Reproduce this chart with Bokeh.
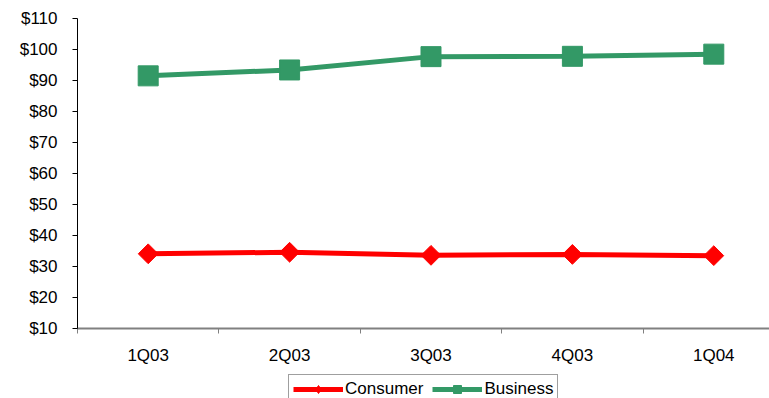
from bokeh.plotting import figure
from bokeh.layouts import column
from bokeh.models import (Range1d, FixedTicker, PrintfTickFormatter, Legend, LegendItem)
from bokeh.embed import file_html
from bokeh.resources import INLINE
import numpy as np

# Average revenue per line, by quarter
quarters = ["1Q03", "2Q03", "3Q03", "4Q03", "1Q04"]
consumer = [34.1, 34.6, 33.6, 33.9, 33.5]
business = [91.5, 93.4, 97.7, 97.8, 98.5]
y_ticks = [10, 20, 30, 40, 50, 60, 70, 80, 90, 100, 110]

FONT = "Liberation Sans"
FSIZE = "17px"
RED = "#FF0000"
GREEN = "#339966"

# category slots: each quarter occupies one unit, centred at i + 0.5
xc = np.arange(len(quarters)) + 0.5
bounds = list(range(len(quarters) + 1))

p = figure(width=769, height=374, output_backend="svg", toolbar_location=None,
           x_range=Range1d(0, 4.894), y_range=Range1d(10, 110),
           min_border_left=77, min_border_top=18, min_border_right=0,
           min_border_bottom=46)
p.outline_line_color = None
p.xgrid.grid_line_color = None
p.ygrid.grid_line_color = None
p.background_fill_color = "white"
p.border_fill_color = "white"

# y axis
p.yaxis.ticker = FixedTicker(ticks=y_ticks, minor_ticks=[])
p.yaxis.formatter = PrintfTickFormatter(format="$%d")
p.yaxis.axis_line_color = "black"
p.yaxis.major_tick_line_color = "black"
p.yaxis.major_tick_out = 5
p.yaxis.major_tick_in = 0
p.yaxis.minor_tick_line_color = None
p.yaxis.major_label_standoff = 15
p.yaxis.major_label_text_font = FONT
p.yaxis.major_label_text_font_size = FSIZE
p.yaxis.major_label_text_color = "black"

# x axis: labels at category centres, tick marks on slot boundaries
p.xaxis.ticker = FixedTicker(ticks=list(xc), minor_ticks=bounds)
p.xaxis.major_label_overrides = {float(x): q for x, q in zip(xc, quarters)}
p.xaxis.major_tick_out = 0
p.xaxis.major_tick_in = 0
p.xaxis.minor_tick_out = 5
p.xaxis.minor_tick_in = 0
p.xaxis.minor_tick_line_color = "#808080"
p.xaxis.axis_line_color = "#808080"
p.xaxis.axis_line_width = 2
p.xaxis.major_label_standoff = 12
p.xaxis.major_label_text_font = FONT
p.xaxis.major_label_text_font_size = FSIZE
p.xaxis.major_label_text_color = "black"

# series
p.line(xc, consumer, line_color=RED, line_width=5)
p.scatter(xc, consumer, marker="square", angle=np.pi / 4, size=14,
          fill_color=RED, line_color=RED)
p.line(xc, business, line_color=GREEN, line_width=5)
p.scatter(xc, business, marker="square", size=20, fill_color=GREEN, line_color=GREEN)

# legend strip underneath the chart; its series lie outside this strip's
# own y range, so only their legend swatches show
lg = figure(width=769, height=24, output_backend="svg", toolbar_location=None,
            x_range=Range1d(0, 1), y_range=Range1d(0, 1),
            x_axis_location=None, y_axis_location=None,
            min_border=0, outline_line_color=None)
lg.xgrid.grid_line_color = None
lg.ygrid.grid_line_color = None
k_line = lg.line(xc, consumer, line_color=RED, line_width=5)
k_mark = lg.scatter(xc, consumer, marker="diamond", size=14,
                    fill_color=RED, line_color=RED)
b_line = lg.line(xc, business, line_color=GREEN, line_width=5)
b_mark = lg.scatter(xc, business, marker="square", size=20, fill_color=GREEN, line_color=GREEN)

legend = Legend(items=[LegendItem(label="Consumer", renderers=[k_line, k_mark], index=0),
                       LegendItem(label="Business", renderers=[b_line, b_mark], index=0)],
                orientation="horizontal", location=(211, -6),
                glyph_width=50, glyph_height=20, label_standoff=2, spacing=9,
                padding=4, margin=0, border_line_color="#404040", border_line_width=1,
                label_text_font=FONT, label_text_font_size=FSIZE,
                label_text_color="black", background_fill_color="white",
                background_fill_alpha=1.0)
lg.add_layout(legend, "center")

page = column(p, lg, spacing=0)
open("out.html", "w").write(file_html(page, INLINE))
